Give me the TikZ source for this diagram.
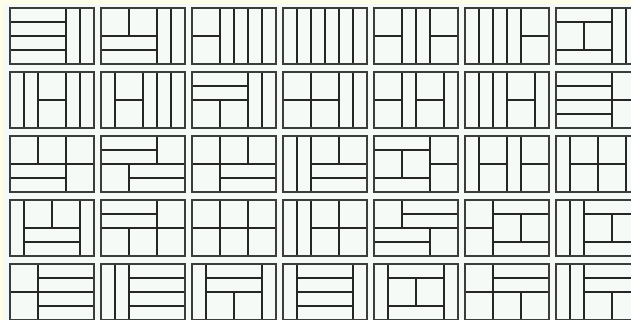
\documentclass[tikz,border=0pt]{standalone}
\usepackage{xcolor}
\definecolor{creambg}{HTML}{FDFDE8}
\definecolor{mintbg}{HTML}{F5FAF6}
\definecolor{tilefill}{HTML}{F6FAF7}
\definecolor{bordercol}{HTML}{3C3C3C}
\tikzset{
  tilebg/.style={fill=tilefill},
  innerline/.style={draw=black!85, line width=1.1pt},
  outerline/.style={draw=bordercol, line width=1.8pt},
}
\newcommand\tileat[3]{%
  \begin{scope}[shift={(#1,#2)}]
    \fill[tilebg] (0,0) rectangle (84,56);
    #3
    \draw[outerline] (0,0) rectangle (84,56);
  \end{scope}}
\newcommand\tileSq[2]{\draw[innerline] ({#1*14},{#2*14}) rectangle ++(28,28);}
\newcommand\tileHb[2]{\draw[innerline] ({#1*14},{#2*14}) rectangle ++(56,14);}
\newcommand\tileVb[1]{\draw[innerline] ({#1*14},0) rectangle ++(14,56);}
\begin{document}
\begin{tikzpicture}[x=1pt,y=-1pt]
\useasboundingbox (0,0) rectangle (631,320);
\fill[creambg] (0,0) rectangle (631,320);
\fill[mintbg] (3,4) rectangle (631,320);
\begin{scope}
\clip (0,0) rectangle (631,320);
% Row 1
\tileat{10}{8}{\tileHb00\tileHb01\tileHb02\tileHb03\tileVb4\tileVb5}
\tileat{101}{8}{\tileSq00\tileSq20\tileHb02\tileHb03\tileVb4\tileVb5}
\tileat{192}{8}{\tileSq00\tileSq02\tileVb2\tileVb3\tileVb4\tileVb5}
\tileat{283}{8}{\tileVb0\tileVb1\tileVb2\tileVb3\tileVb4\tileVb5}
\tileat{374}{8}{\tileSq00\tileSq02\tileVb2\tileVb3\tileSq40\tileSq42}
\tileat{465}{8}{\tileVb0\tileVb1\tileVb2\tileVb3\tileSq40\tileSq42}
\tileat{556}{8}{\tileHb00\tileSq01\tileSq21\tileHb03\tileVb4\tileVb5}
% Row 2
\tileat{10}{72}{\tileVb0\tileVb1\tileSq20\tileSq22\tileVb4\tileVb5}
\tileat{101}{72}{\tileVb0\tileSq10\tileSq12\tileVb3\tileVb4\tileVb5}
\tileat{192}{72}{\tileHb00\tileHb01\tileSq02\tileSq22\tileVb4\tileVb5}
\tileat{283}{72}{\tileSq00\tileSq02\tileSq20\tileSq22\tileVb4\tileVb5}
\tileat{374}{72}{\tileSq00\tileSq02\tileVb2\tileSq30\tileSq32\tileVb5}
\tileat{465}{72}{\tileVb0\tileVb1\tileVb2\tileSq30\tileSq32\tileVb5}
\tileat{556}{72}{\tileHb00\tileHb01\tileHb02\tileHb03\tileSq40\tileSq42}
% Row 3
\tileat{10}{136}{\tileSq00\tileSq20\tileHb02\tileHb03\tileSq40\tileSq42}
\tileat{101}{136}{\tileHb00\tileHb01\tileSq40\tileSq02\tileHb22\tileHb23}
\tileat{192}{136}{\tileSq00\tileSq20\tileSq40\tileSq02\tileHb22\tileHb23}
\tileat{283}{136}{\tileVb0\tileVb1\tileSq20\tileSq40\tileHb22\tileHb23}
\tileat{374}{136}{\tileHb00\tileSq01\tileSq21\tileHb03\tileSq40\tileSq42}
\tileat{465}{136}{\tileVb0\tileSq10\tileSq12\tileVb3\tileSq40\tileSq42}
\tileat{556}{136}{\tileVb0\tileSq10\tileSq12\tileSq30\tileSq32\tileVb5}
% Row 4
\tileat{10}{200}{\tileVb0\tileSq10\tileSq30\tileHb12\tileHb13\tileVb5}
\tileat{101}{200}{\tileHb00\tileHb01\tileSq40\tileSq02\tileSq22\tileSq42}
\tileat{192}{200}{\tileSq00\tileSq20\tileSq40\tileSq02\tileSq22\tileSq42}
\tileat{283}{200}{\tileVb0\tileVb1\tileSq20\tileSq22\tileSq40\tileSq42}
\tileat{374}{200}{\tileSq00\tileHb20\tileHb21\tileHb02\tileHb03\tileSq42}
\tileat{465}{200}{\tileSq00\tileSq02\tileHb20\tileSq21\tileSq41\tileHb23}
\tileat{556}{200}{\tileVb0\tileVb1\tileHb20\tileSq21\tileSq41\tileHb23}
% Row 5
\tileat{10}{264}{\tileSq00\tileSq02\tileHb20\tileHb21\tileHb22\tileHb23}
\tileat{101}{264}{\tileVb0\tileVb1\tileHb20\tileHb21\tileHb22\tileHb23}
\tileat{192}{264}{\tileVb0\tileHb10\tileHb11\tileSq12\tileSq32\tileVb5}
\tileat{283}{264}{\tileVb0\tileHb10\tileHb11\tileHb12\tileHb13\tileVb5}
\tileat{374}{264}{\tileVb0\tileHb10\tileSq11\tileSq31\tileHb13\tileVb5}
\tileat{465}{264}{\tileSq00\tileHb20\tileHb21\tileSq02\tileSq22\tileSq42}
\tileat{556}{264}{\tileVb0\tileVb1\tileHb20\tileHb21\tileSq22\tileSq42}
\end{scope}
\end{tikzpicture}
\end{document}
